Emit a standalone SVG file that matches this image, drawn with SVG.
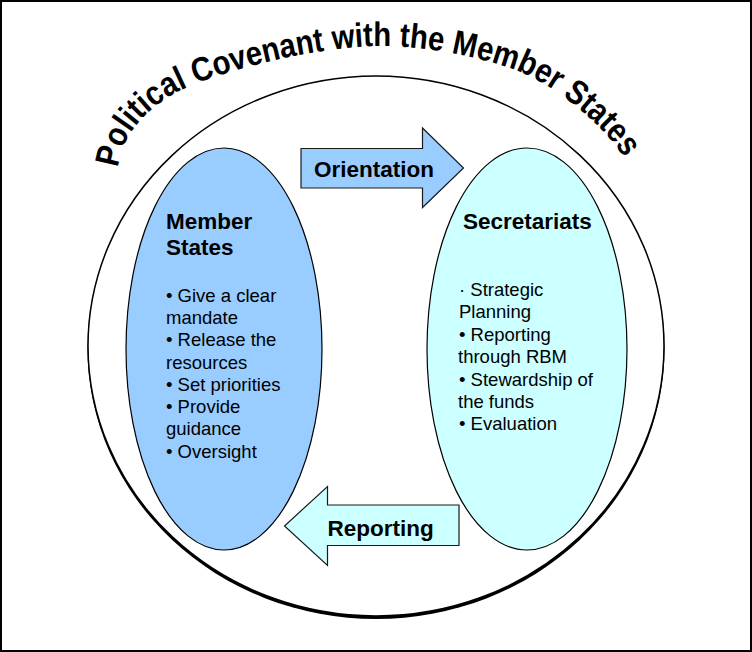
<svg xmlns="http://www.w3.org/2000/svg" width="752" height="652" viewBox="0 0 752 652">
  <defs>
    <style>
      text { font-family: "Liberation Sans", Arial, sans-serif; fill: #000; }
      .head { font-size: 22.5px; font-weight: bold; }
      .item { font-size: 18.5px; }
      .lbl { font-size: 22.5px; font-weight: bold; }
      .title { font-size: 34px; font-weight: bold; }
      .node { stroke: #000; stroke-width: 1.2; }
      .arrow { stroke: #1a1a1a; stroke-width: 1.2; stroke-linejoin: miter; }
    </style>
    <path id="arc" d="M118,168 C122,130 155,98 200,82 C254,63 308,51 358,47 C408,43 465,53 510,68 C555,83 607,129 622,155 C628,165 634,178 640,195"/>
  </defs>

  <rect id="frame" x="1" y="1" width="750" height="650" fill="#fff" stroke="#000" stroke-width="2"/>

  <g id="covenant">
    <ellipse cx="376" cy="348.5" rx="288.5" ry="270.5" fill="#000"/>
    <ellipse cx="376" cy="346" rx="288" ry="270" fill="#fff" stroke="#000" stroke-width="1.5"/>
  </g>

  <g id="title">
    <text class="title"><textPath href="#arc" startOffset="0" textLength="112.3" lengthAdjust="spacingAndGlyphs">Political</textPath></text>
    <text class="title"><textPath href="#arc" startOffset="120.4" textLength="372.6" lengthAdjust="spacingAndGlyphs">Covenant with the Member</textPath></text>
    <text class="title"><textPath href="#arc" startOffset="501.1" textLength="87.9" lengthAdjust="spacingAndGlyphs">States</textPath></text>
  </g>

  <g id="member-states">
    <ellipse class="node" cx="224" cy="349" rx="98" ry="201" fill="#99CCFF"/>
    <text class="head" x="166" y="228.5">Member</text>
    <text class="head" x="166" y="255">States</text>
    <text class="item" x="166" y="301.5">• Give a clear</text>
    <text class="item" x="166" y="323.5">mandate</text>
    <text class="item" x="166" y="346">• Release the</text>
    <text class="item" x="166" y="368.5">resources</text>
    <text class="item" x="166" y="391">• Set priorities</text>
    <text class="item" x="166" y="413">• Provide</text>
    <text class="item" x="166" y="435">guidance</text>
    <text class="item" x="166" y="457.5">• Oversight</text>
  </g>

  <g id="secretariats">
    <ellipse class="node" cx="527" cy="349" rx="100" ry="201" fill="#CCFFFF"/>
    <text class="head" x="463" y="228.5">Secretariats</text>
    <text class="item" x="459" y="296">· Strategic</text>
    <text class="item" x="459" y="318">Planning</text>
    <text class="item" x="459" y="341">• Reporting</text>
    <text class="item" x="458" y="363">through RBM</text>
    <text class="item" x="459" y="385.5">• Stewardship of</text>
    <text class="item" x="458" y="407.5">the funds</text>
    <text class="item" x="459" y="430">• Evaluation</text>
  </g>

  <g id="connectors">
    <g id="orientation">
      <polygon class="arrow" points="301,148.5 422.5,148.5 422.5,128 463.5,168 422.5,207.5 422.5,188 301,188" fill="#99CCFF"/>
      <text class="lbl" x="314" y="176.5">Orientation</text>
    </g>
    <g id="reporting">
      <polygon class="arrow" points="459,505 327.5,505 327.5,486.5 284.5,526 327.5,565.5 327.5,545.5 459,545.5" fill="#CCFFFF"/>
      <text class="lbl" x="327.5" y="535.5">Reporting</text>
    </g>
  </g>
</svg>
